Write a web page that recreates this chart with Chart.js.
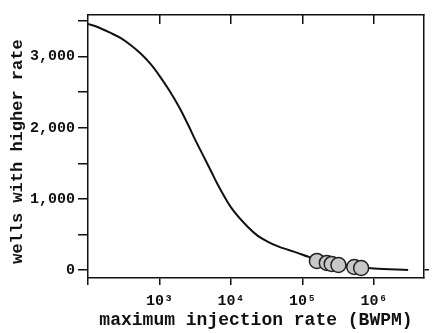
<!DOCTYPE html>
<html><head><meta charset="utf-8">
<script src="https://cdn.jsdelivr.net/npm/chart.js@4/dist/chart.umd.min.js"></script>
<style>html,body{margin:0;padding:0;background:#fff}#wrap{width:433px;height:333px}</style>
</head><body><div id="wrap"><canvas id="c" width="433" height="333"></canvas></div>
<script>
// curve: maximum injection rate (BWPM) vs wells with higher rate
const curveRates = [100, 141, 200, 288, 398, 550, 759, 1000, 1380, 1905, 2570, 3162, 4169, 5370, 6457, 10000, 17378, 23714, 32359, 44668, 85114, 125893, 300000, 1000000, 3000000];
const curveWells = [3460, 3410, 3340, 3260, 3160, 3040, 2890, 2730, 2520, 2280, 2020, 1830, 1590, 1370, 1210, 880, 600, 480, 400, 335, 240, 180, 95, 20, 0];
// highlighted wells (circles)
const markRates = [159000, 219000, 256000, 318000, 529000, 661000];
const markWells = [127, 99, 85, 70, 42, 28];
// tick values
const xTickValues = [100, 1000, 10000, 100000, 1000000];
const xTickLabels = ['', '10³', '10⁴', '10⁵', '10⁶'];
const yTickValues = [0, 500, 1000, 1500, 2000, 2500, 3000, 3500];

const FONT = 'Liberation Mono';
const curve = curveRates.map((r, i) => ({x: r, y: curveWells[i]}));
const marks = markRates.map((r, i) => ({x: r, y: markWells[i]}));

new Chart(document.getElementById('c'), {
  type: 'scatter',
  data: {datasets: [
    {type: 'line', data: curve, borderColor: '#111', borderWidth: 2, pointRadius: 0, cubicInterpolationMode: 'monotone', fill: false, order: 2},
    {data: marks, pointRadius: 7.5, pointBackgroundColor: '#c8c8c8', pointBorderColor: '#222', pointBorderWidth: 1.5, order: 1}
  ]},
  options: {
    responsive: false, animation: false, devicePixelRatio: 1,
    layout: {padding: {left: 0, right: 0, top: 0, bottom: 0}},
    plugins: {legend: {display: false}, tooltip: {enabled: false}},
    scales: {
      x: {
        type: 'logarithmic', position: 'bottom', min: 100, max: 5000000,
        afterBuildTicks: s => { s.ticks = xTickValues.map(v => ({value: v})); },
        afterFit: s => { s.height = 55; },
        ticks: {callback: (v, i) => xTickLabels[i], color: '#111', font: {family: FONT, size: 15, weight: 'bold'}, padding: 7, maxRotation: 0, autoSkip: false},
        grid: {drawOnChartArea: false, tickLength: 7, color: '#111', lineWidth: 1.5},
        border: {display: true, color: '#111', width: 1.5},
        title: {display: true, text: 'maximum injection rate (BWPM)', color: '#111', font: {family: FONT, size: 18, weight: 'bold'}, padding: {top: 0, bottom: 2}}
      },
      x2: {
        type: 'logarithmic', position: 'top', min: 100, max: 5000000,
        afterBuildTicks: s => { s.ticks = xTickValues.slice(1).map(v => ({value: v})); },
        afterFit: s => { s.height = 15; },
        ticks: {display: false},
        grid: {drawOnChartArea: false, tickLength: -9, color: '#111', lineWidth: 1.5},
        border: {display: true, color: '#111', width: 1.5}
      },
      y: {
        type: 'linear', position: 'left', min: -113, max: 3585,
        afterBuildTicks: s => { s.ticks = yTickValues.map(v => ({value: v})); },
        afterFit: s => { s.width = 88; },
        ticks: {callback: v => (v % 1000 === 0 ? v.toLocaleString('en-US') : ''), color: '#111', font: {family: FONT, size: 15, weight: 'bold'}, padding: 3, autoSkip: false},
        grid: {drawOnChartArea: false, tickLength: 10, color: '#111', lineWidth: 1.5},
        border: {display: true, color: '#111', width: 1.5},
        title: {display: true, text: 'wells with higher rate ', color: '#111', font: {family: FONT, size: 17, weight: 'bold'}, padding: {top: 8, bottom: 0}}
      },
      y2: {
        type: 'linear', position: 'right', min: -113, max: 3585,
        afterBuildTicks: s => { s.ticks = [{value: 0}]; },
        afterFit: s => { s.width = 5; },
        ticks: {display: false},
        grid: {drawOnChartArea: false, tickLength: 5, color: '#111', lineWidth: 1.5},
        border: {display: true, color: '#111', width: 1.5}
      }
    }
  }
});
</script></body></html>
